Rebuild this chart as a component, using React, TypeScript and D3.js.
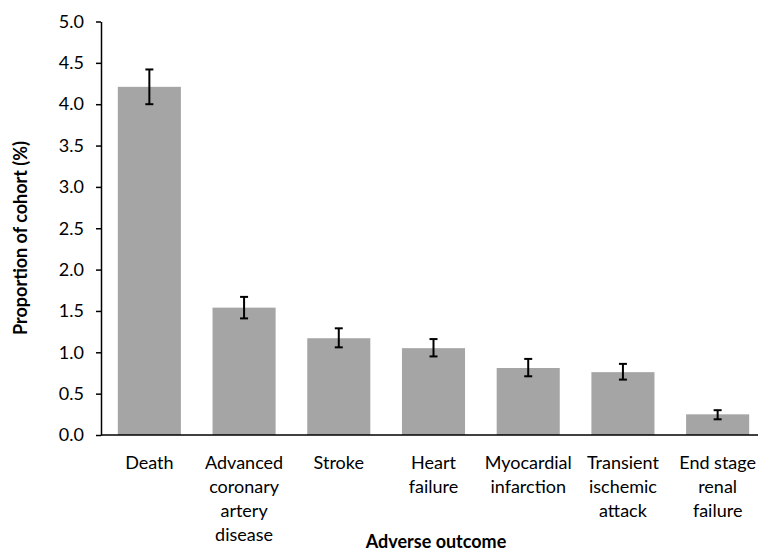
import * as d3 from "d3";
import React, { useEffect, useRef } from "react";

const categories = [
  "Death",
  "Advanced coronary artery disease",
  "Stroke",
  "Heart failure",
  "Myocardial infarction",
  "Transient ischemic attack",
  "End stage renal failure",
];
// category labels wrapped as in the original
const labelLines = [
  ["Death"],
  ["Advanced", "coronary", "artery", "disease"],
  ["Stroke"],
  ["Heart", "failure"],
  ["Myocardial", "infarction"],
  ["Transient", "ischemic", "attack"],
  ["End stage", "renal", "failure"],
];
const values = [4.21, 1.54, 1.17, 1.05, 0.81, 0.76, 0.25];
const lower = [4.0, 1.41, 1.06, 0.95, 0.71, 0.67, 0.19];
const upper = [4.42, 1.67, 1.29, 1.16, 0.92, 0.86, 0.3];
const yTicks = [0, 0.5, 1, 1.5, 2, 2.5, 3, 3.5, 4, 4.5, 5];

const W = 758;
const H = 552;
const FONT = "Lato, 'Open Sans', sans-serif";

const App = () => {
  const ref = useRef<SVGSVGElement>(null);

  useEffect(() => {
    const svg = d3.select(ref.current);
    svg.selectAll("*").remove();

    // Scales
    const x = d3.scaleBand().domain(categories).range([102, 765]).paddingInner(0.334).paddingOuter(0.167);
    const y = d3.scaleLinear().domain([0, 5]).range([435, 21.5]);
    const axisX = 101;

    // Bars
    svg
      .append("g")
      .selectAll("rect")
      .data(values)
      .join("rect")
      .attr("x", (d, i) => x(categories[i]))
      .attr("y", (d) => y(d))
      .attr("width", x.bandwidth())
      .attr("height", (d) => y(0) - y(d))
      .attr("fill", "#a5a5a5");

    // Error bars
    const err = svg.append("g").attr("stroke", "#000").attr("stroke-width", 2);
    values.forEach((v, i) => {
      const cx = x(categories[i]) + x.bandwidth() / 2;
      err.append("line").attr("x1", cx).attr("x2", cx).attr("y1", y(lower[i])).attr("y2", y(upper[i]));
      err.append("line").attr("x1", cx - 4).attr("x2", cx + 4).attr("y1", y(lower[i])).attr("y2", y(lower[i]));
      err.append("line").attr("x1", cx - 4).attr("x2", cx + 4).attr("y1", y(upper[i])).attr("y2", y(upper[i]));
    });

    // Y axis
    const yAxis = d3.axisLeft(y).tickValues(yTicks).tickFormat(d3.format(".1f")).tickSize(5).tickSizeOuter(0).tickPadding(12);
    const gy = svg.append("g").attr("transform", `translate(${axisX},0)`).call(yAxis);
    gy.select(".domain").attr("stroke", "#000").attr("stroke-width", 1.5);
    gy.selectAll(".tick line").attr("stroke", "#000").attr("stroke-width", 1.5);
    gy.selectAll(".tick text").style("font-family", FONT).style("font-size", "18px").attr("fill", "#000");

    // X axis line
    svg
      .append("line")
      .attr("x1", axisX)
      .attr("x2", W)
      .attr("y1", y(0))
      .attr("y2", y(0))
      .attr("stroke", "#000")
      .attr("stroke-width", 1.5);

    // Category labels
    const lab = svg.append("g").style("font-family", FONT).style("font-size", "18px").attr("fill", "#000").attr("text-anchor", "middle");
    labelLines.forEach((lines, i) => {
      const cx = x(categories[i]) + x.bandwidth() / 2;
      lines.forEach((t, j) => {
        lab.append("text").attr("x", cx).attr("y", 469 + j * 24).text(t);
      });
    });

    // Axis titles
    svg
      .append("text")
      .attr("x", 436)
      .attr("y", 548)
      .attr("text-anchor", "middle")
      .style("font-family", FONT)
      .style("font-size", "18px")
      .style("font-weight", "bold")
      .text("Adverse outcome");

    svg
      .append("text")
      .attr("transform", `translate(27, 238) rotate(-90)`)
      .attr("text-anchor", "middle")
      .style("font-family", FONT)
      .style("font-size", "18px")
      .style("font-weight", "bold")
      .text("Proportion of cohort (%)");
  }, []);

  return (
    <svg ref={ref} width={W} height={H} style={{ position: "absolute", left: 0, top: 0, background: "#fff" }} />
  );
};

export default App;
